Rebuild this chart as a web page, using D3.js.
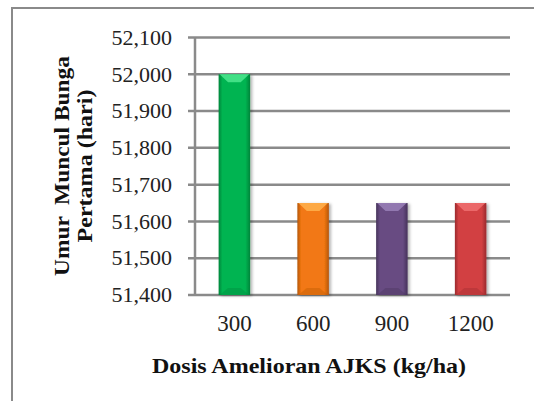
<!DOCTYPE html>
<html><head><meta charset="utf-8">
<script src="https://cdn.jsdelivr.net/npm/d3@7"></script>
<style>body{margin:0;background:#fff}svg{display:block}</style>
</head><body>
<script>
const categories = ["300", "600", "900", "1200"];
const values = [52000, 51650, 51650, 51650];
const yTicks = [51400, 51500, 51600, 51700, 51800, 51900, 52000, 52100];
const xTitle = "Dosis Amelioran AJKS (kg/ha)";
const yTitle = ["Umur  Muncul Bunga", "Pertama (hari)"];
const colors = [
  {mid:"#00B451", edge:"#00843a", light:"#4fe88f"},
  {mid:"#F27812", edge:"#b4560a", light:"#ffb14f"},
  {mid:"#674C82", edge:"#45325a", light:"#9a80b8"},
  {mid:"#D24043", edge:"#9a2a2c", light:"#f07070"}
];
const FONT = "'Liberation Serif', 'Times New Roman', serif";
const W = 534, H = 401;
const svg = d3.select("body").append("svg").attr("width", W).attr("height", H);
const defs = svg.append("defs");
colors.forEach((c, i) => {
  const g = defs.append("linearGradient").attr("id", "g" + i).attr("x1", 0).attr("x2", 1).attr("y1", 0).attr("y2", 0);
  g.append("stop").attr("offset", "0%").attr("stop-color", c.edge);
  g.append("stop").attr("offset", "12%").attr("stop-color", c.mid);
  g.append("stop").attr("offset", "85%").attr("stop-color", c.mid);
  g.append("stop").attr("offset", "100%").attr("stop-color", c.edge);
});
const f = defs.append("filter").attr("id", "sh").attr("x", "-30%").attr("y", "-10%").attr("width", "170%").attr("height", "130%");
f.append("feDropShadow").attr("dx", 2).attr("dy", 1).attr("stdDeviation", 1.5).attr("flood-color", "#000").attr("flood-opacity", 0.3);

// frame
svg.append("rect").attr("x", 12).attr("y", 8).attr("width", 700).attr("height", 600)
  .attr("fill", "none").attr("stroke", "#8a8a8a").attr("stroke-width", 2);

const m = {left: 195, right: 510, top: 37.5, bottom: 295};
const x = d3.scaleBand().domain(categories).range([m.left, m.right]).paddingInner(0.6).paddingOuter(0.3);
const y = d3.scaleLinear().domain([51400, 52100]).range([m.bottom, m.top]);

// gridlines
svg.append("g").selectAll("line").data(yTicks).join("line")
  .attr("x1", m.left - 7).attr("x2", m.right)
  .attr("y1", d => y(d)).attr("y2", d => y(d))
  .attr("stroke", "#8a8a8a").attr("stroke-width", 2.5);
// y axis line
svg.append("line").attr("x1", m.left).attr("x2", m.left).attr("y1", m.top).attr("y2", m.bottom)
  .attr("stroke", "#8a8a8a").attr("stroke-width", 2.5);

// y tick labels
const fmt = d3.format(",");
svg.append("g").selectAll("text").data(yTicks).join("text")
  .attr("x", 172).attr("y", d => y(d)).attr("dy", "0.33em")
  .attr("text-anchor", "end")
  .style("font-family", FONT)
  .style("font-size", "22px").attr("fill", "#222")
  .text(d => fmt(d));

// bars
const bars = svg.append("g").selectAll("g").data(categories).join("g").attr("filter", "url(#sh)");
bars.append("rect")
  .attr("x", d => x(d)).attr("width", x.bandwidth())
  .attr("y", (d, i) => y(values[i])).attr("height", (d, i) => y(51400) - y(values[i]))
  .attr("fill", (d, i) => "url(#g" + i + ")");
// top bevel
bars.append("path")
  .attr("d", (d, i) => {
    const x0 = x(d), x1 = x(d) + x.bandwidth(), t = y(values[i]), bw = x.bandwidth();
    return `M${x0+1},${t} L${x1-1},${t} L${x1-bw*0.3},${t+8} L${x0+bw*0.3},${t+8} Z`;
  })
  .attr("fill", (d, i) => colors[i].light).attr("opacity", 0.85);
// bottom bevel
bars.append("path")
  .attr("d", (d, i) => {
    const x0 = x(d), x1 = x(d) + x.bandwidth(), b = y(51400), bw = x.bandwidth();
    return `M${x0+1},${b} L${x1-1},${b} L${x1-bw*0.3},${b-7} L${x0+bw*0.3},${b-7} Z`;
  })
  .attr("fill", (d, i) => colors[i].edge).attr("opacity", 0.35);

// x tick labels
svg.append("g").selectAll("text").data(categories).join("text")
  .attr("x", d => x(d) + x.bandwidth() / 2).attr("y", 331)
  .attr("text-anchor", "middle")
  .style("font-family", FONT)
  .style("font-size", "23px").attr("fill", "#222")
  .text(d => d);

// x axis title
svg.append("text").attr("x", 309).attr("y", 373).attr("text-anchor", "middle")
  .style("font-family", FONT)
  .style("font-weight", "bold").style("font-size", "22px").attr("fill", "#111")
  .attr("textLength", 314).attr("lengthAdjust", "spacingAndGlyphs")
  .text(xTitle);

// y axis title
const yt = svg.append("text").attr("transform", "translate(0,166) rotate(-90)")
  .attr("text-anchor", "middle")
  .style("font-family", FONT)
  .style("font-weight", "bold").style("font-size", "21px").attr("fill", "#111");
yt.append("tspan").attr("x", 0).attr("y", 69).style("white-space", "pre")
  .attr("textLength", 220).attr("lengthAdjust", "spacingAndGlyphs").text(yTitle[0]);
yt.append("tspan").attr("x", 0).attr("y", 92)
  .attr("textLength", 153).attr("lengthAdjust", "spacingAndGlyphs").text(yTitle[1]);
</script>
</body></html>
